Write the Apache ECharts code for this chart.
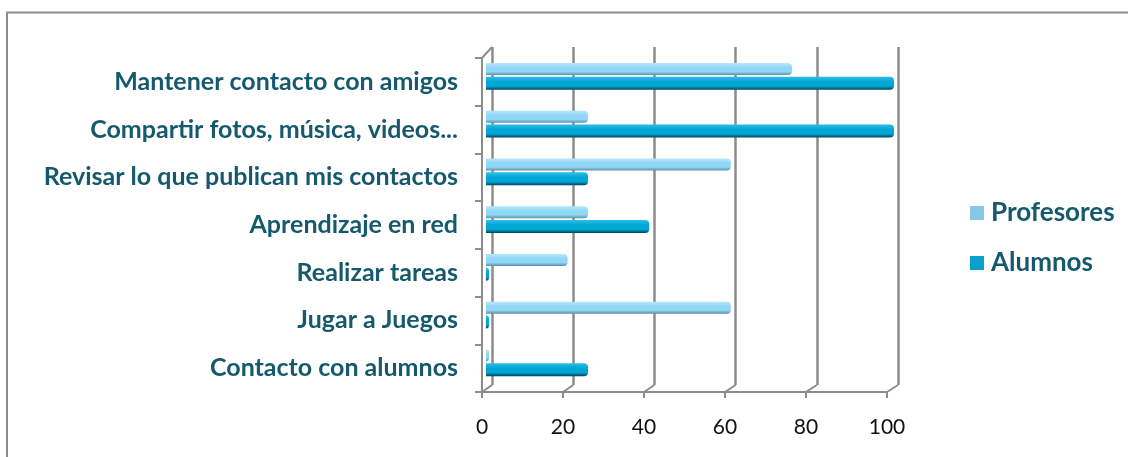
<!DOCTYPE html>
<html>
<head>
<meta charset="utf-8">
<script src="https://cdn.jsdelivr.net/npm/echarts@6/dist/echarts.min.js"></script>
<style>
  html, body { margin: 0; padding: 0; background: #fff; }
  #chart { width: 1128px; height: 457px; }
</style>
</head>
<body>
<div id="chart"></div>
<script>
// datos
const categories = [
  'Mantener contacto con amigos',
  'Compartir fotos, música, videos...',
  'Revisar lo que publican mis contactos',
  'Aprendizaje en red',
  'Realizar tareas',
  'Jugar a Juegos',
  'Contacto con alumnos'
];
const profesores = [75, 25, 60, 25, 20, 60, 0];
const alumnos = [100, 100, 25, 40, 0, 0, 25];
const xMin = 0, xMax = 100, xStep = 20;

const labelColor = '#15596d';
const gridColor = '#8c8c8c';

// gradiente tipo cilindro
function cyl(top, mid, bottom) {
  return new echarts.graphic.LinearGradient(0, 0, 0, 1, [
    { offset: 0, color: top },
    { offset: 0.4, color: mid },
    { offset: 0.72, color: mid },
    { offset: 1, color: bottom }
  ]);
}

const chart = echarts.init(document.getElementById('chart'));

const option = {
  animation: false,
  legend: {
    orient: 'vertical',
    left: 970,
    top: 200,
    padding: 0,
    itemWidth: 14,
    itemHeight: 14,
    itemGap: 24,
    icon: 'rect',
    data: [
      { name: 'Profesores', itemStyle: { color: '#86c6e6' } },
      { name: 'Alumnos', itemStyle: { color: '#0b9fcb' } }
    ],
    textStyle: {
      fontFamily: 'Lato', fontWeight: 'bold', fontSize: 26,
      color: labelColor, lineHeight: 26, padding: [0, 0, 0, 2]
    }
  },
  grid: [
    // pared del fondo
    { left: 492, right: 230, top: 47, bottom: 72 },
    // barras
    { left: 486, right: 234, top: 52.6, bottom: 70.4 },
    // plano frontal (ejes)
    { left: 482, right: 241, top: 58, bottom: 65 }
  ],
  xAxis: [
    {
      gridIndex: 0, type: 'value', min: xMin, max: xMax, interval: xStep,
      axisLine: { show: false }, axisTick: { show: false }, axisLabel: { show: false },
      splitLine: { lineStyle: { color: gridColor, width: 2.5 } }
    },
    {
      gridIndex: 1, type: 'value', min: xMin, max: xMax, interval: xStep,
      show: false, splitLine: { show: false }
    },
    {
      gridIndex: 2, type: 'value', min: xMin, max: xMax, interval: xStep,
      axisLine: { show: true, lineStyle: { color: gridColor, width: 2 } },
      axisTick: { show: true, length: 6, lineStyle: { color: gridColor, width: 2 } },
      splitLine: { show: false },
      axisLabel: { margin: 25, fontFamily: 'Lato', fontSize: 21, color: '#111' }
    }
  ],
  yAxis: [
    {
      gridIndex: 0, type: 'category', data: categories, inverse: true, show: false
    },
    {
      gridIndex: 1, type: 'category', data: categories, inverse: true, show: false
    },
    {
      gridIndex: 2, type: 'category', data: categories, inverse: true,
      axisLine: { show: true, lineStyle: { color: gridColor, width: 2 } },
      axisTick: { show: true, length: 7, lineStyle: { color: gridColor, width: 2 } },
      axisLabel: {
        margin: 24, fontFamily: 'Lato', fontWeight: 'bold', fontSize: 25,
        color: labelColor
      }
    }
  ],
  series: [
    {
      name: 'Profesores', type: 'bar', xAxisIndex: 1, yAxisIndex: 1,
      data: profesores, barWidth: 12, barGap: '15%', barMinHeight: 3,
      itemStyle: {
        color: cyl('#b4e7fb', '#90d7f6', '#5a90a8'),
        borderRadius: [0, 4, 4, 0]
      }
    },
    {
      name: 'Alumnos', type: 'bar', xAxisIndex: 1, yAxisIndex: 1,
      data: alumnos, barWidth: 13, barMinHeight: 3,
      itemStyle: {
        color: cyl('#2cbde6', '#00a6d4', '#00445a'),
        borderRadius: [0, 4, 4, 0]
      }
    }
  ]
};

chart.setOption(option);

// lineas de profundidad entre plano frontal y pared del fondo
const fr = chart.getModel().getComponent('grid', 2).coordinateSystem.getRect();
const br = chart.getModel().getComponent('grid', 0).coordinateSystem.getRect();
const last = categories[categories.length - 1];
const depth = [];
for (let v = xMin; v <= xMax; v += xStep) {
  const f = chart.convertToPixel({ gridIndex: 2 }, [v, last]);
  const b = chart.convertToPixel({ gridIndex: 0 }, [v, last]);
  depth.push({
    type: 'line', silent: true,
    shape: { x1: f[0], y1: fr.y + fr.height, x2: b[0], y2: br.y + br.height },
    style: { stroke: gridColor, lineWidth: 2 }
  });
}
depth.push({
  type: 'line', silent: true,
  shape: { x1: fr.x, y1: fr.y, x2: br.x, y2: br.y },
  style: { stroke: gridColor, lineWidth: 2 }
});
// marco exterior
depth.push({
  type: 'rect', silent: true,
  shape: { x: 7, y: 12.5, width: 1300, height: 600 },
  style: { fill: 'none', stroke: gridColor, lineWidth: 2 }
});
chart.setOption({ graphic: depth });
</script>
</body>
</html>
